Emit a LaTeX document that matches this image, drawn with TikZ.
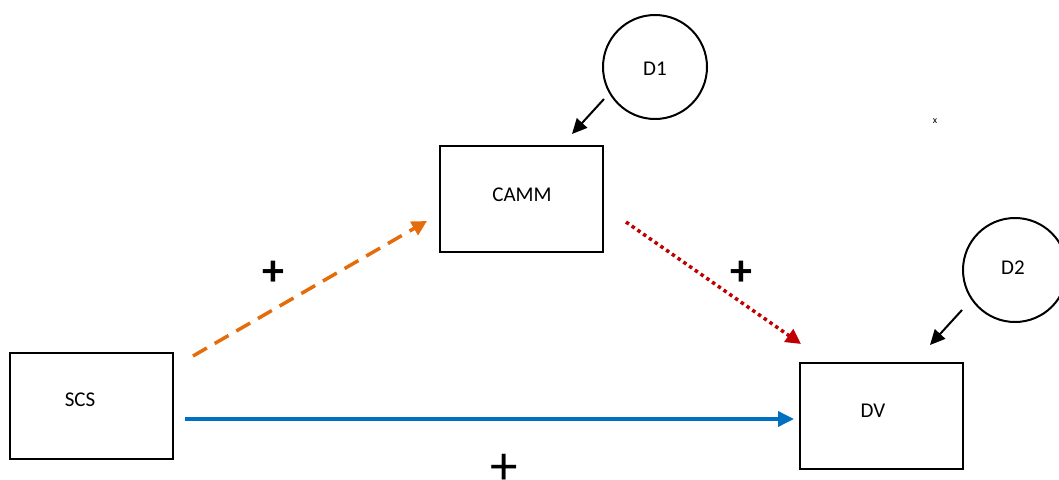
\documentclass[tikz,border=0pt]{standalone}
\usepackage{fontspec}
\setmainfont{Carlito}
\usetikzlibrary{arrows.meta}
\begin{document}
\begin{tikzpicture}[x=1pt,y=-1pt,
  box/.style={draw=black,line width=2pt,minimum width=163pt,minimum height=106pt,inner sep=0pt},
  circ/.style={draw=black,line width=2pt,circle,minimum size=104pt,inner sep=0pt},
  lbl/.style={font=\fontsize{21}{25}\selectfont,inner sep=0pt},
  plus/.style={font=\bfseries\fontsize{44}{48}\selectfont,inner sep=0pt}]
\useasboundingbox (0,0) rectangle (1059,479);
\definecolor{orng}{RGB}{228,108,10}
\definecolor{rd}{RGB}{192,0,0}
\definecolor{blu}{RGB}{0,112,192}
% boxes
\node[box] (scs) at (91,405.5) {};
\node[box] (camm) at (521.5,198.5) {};
\node[box] (dv) at (881.5,416) {};
\node[lbl] (scst) at (80,400) {SCS};
\node[lbl] (cammt) at (522,195) {CAMM};
\node[lbl] (dvt) at (873,411) {DV};
% circles
\node[circ] (d1) at (655,67) {};
\node[lbl] (d1t) at (655,69) {D1};
\node[circ] (d2) at (1015,270) {};
\node[lbl] (d2t) at (1013,268) {D2};
% endpoints
\coordinate (o1) at (193,356);
\coordinate (o2) at (427,221);
\coordinate (r1) at (626,222);
\coordinate (r2) at (801,344);
\coordinate (b1) at (185,419);
\coordinate (b2) at (794,419);
\coordinate (k1) at (604,99);
\coordinate (k2) at (572,134);
\coordinate (m1) at (962,310);
\coordinate (m2) at (930,345);
% connectors
\draw[orng,line width=3.5pt,dash pattern=on 16pt off 9pt,-{Triangle[length=15pt,width=15pt]}] (o1) -- (o2);
\draw[rd,line width=3.5pt,dash pattern=on 3.5pt off 3.5pt,-{Triangle[length=15pt,width=15pt]}] (r1) -- (r2);
\draw[blu,line width=3.5pt,-{Triangle[length=16pt,width=15pt]}] (b1) -- (b2);
\draw[line width=2pt,-{Triangle[length=15pt,width=14pt]}] (k1) -- (k2);
\draw[line width=2pt,-{Triangle[length=15pt,width=14pt]}] (m1) -- (m2);
% signs
\node[plus] (p1) at (273.5,273.5) {+};
\node[plus] (p2) at (741,273) {+};
\node[font=\fontsize{55}{58}\selectfont,inner sep=0pt] (p3) at (504,469) {+};
\node[font=\fontsize{10}{11}\selectfont,inner sep=0pt] (x) at (935,121) {x};
\end{tikzpicture}
\end{document}
